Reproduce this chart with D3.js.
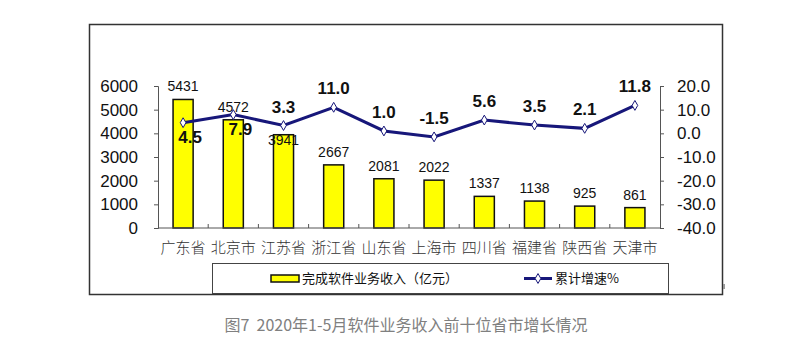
<!DOCTYPE html>
<html>
<head>
<meta charset="utf-8">
<script src="https://cdn.jsdelivr.net/npm/d3@7"></script>
<style>
  body { margin: 0; background: #fff; }
  svg { display: block; font-family: "Liberation Sans", Arial, "Noto Sans CJK SC", sans-serif; }
</style>
</head>
<body>
<svg id="chart" width="803" height="354"></svg>
<script>
// chart data
var provinces = ["广东省", "北京市", "江苏省", "浙江省", "山东省", "上海市", "四川省", "福建省", "陕西省", "天津市"];
var revenue = [5431, 4572, 3941, 2667, 2081, 2022, 1337, 1138, 925, 861];
var growth = [4.5, 7.9, 3.3, 11.0, 1.0, -1.5, 5.6, 3.5, 2.1, 11.8];
var leftTicks = [0, 1000, 2000, 3000, 4000, 5000, 6000];
var rightTicks = [-40, -30, -20, -10, 0, 10, 20];
var legendNames = ["完成软件业务收入（亿元）", "累计增速%"];
var caption = "图7  2020年1-5月软件业务收入前十位省市增长情况";

var svg = d3.select("#chart");
var cjk = "'Noto Sans CJK SC', sans-serif";
var navy = "#17177a";

// plot area (note: "top" is reserved on window, so use other names)
var pLeft = 158, pRight = 660, pTop = 86, pBottom = 228;

var x = d3.scaleBand().domain(provinces).range([pLeft, pRight])
  .paddingInner(0.6).paddingOuter(0.3);
var xEdge = d3.scaleBand().domain(provinces).range([pLeft, pRight]);
var yL = d3.scaleLinear().domain([0, 6000]).range([pBottom, pTop]);
var yR = d3.scaleLinear().domain([-40, 20]).range([pBottom, pTop]);

// outer frame
svg.append("rect")
  .attr("x", 89.5).attr("y", 24.5).attr("width", 633).attr("height", 270)
  .attr("fill", "none").attr("stroke", "#333").attr("stroke-width", 1.5);
svg.append("rect")
  .attr("x", 723).attr("y", 284).attr("width", 2).attr("height", 5)
  .attr("fill", "#999");

// bars
svg.selectAll("rect.bar")
  .data(revenue)
  .enter().append("rect")
  .attr("class", "bar")
  .attr("x", function(d, i) { return x(provinces[i]); })
  .attr("y", function(d) { return yL(d); })
  .attr("width", x.bandwidth())
  .attr("height", function(d) { return pBottom - yL(d); })
  .attr("fill", "#ffff00")
  .attr("stroke", "#111")
  .attr("stroke-width", 1.5);

// left axis
var axL = svg.append("g")
  .attr("transform", "translate(" + pLeft + ",0)")
  .call(d3.axisLeft(yL).tickValues(leftTicks).tickSize(4).tickPadding(16)
    .tickFormat(function(d) { return String(d); }));

// right axis
var axR = svg.append("g")
  .attr("transform", "translate(" + pRight + ",0)")
  .call(d3.axisRight(yR).tickValues(rightTicks).tickSize(4).tickPadding(13)
    .tickFormat(function(d) { return d.toFixed(1); }));

[axL, axR].forEach(function(ax) {
  ax.select(".domain").attr("stroke", "#555");
  ax.selectAll(".tick line").attr("stroke", "#555");
  ax.selectAll(".tick text")
    .attr("fill", "#111")
    .style("font-size", "17px")
    .style("font-family", "'Liberation Sans', Arial, sans-serif");
});

// bottom axis
svg.append("line")
  .attr("x1", pLeft).attr("x2", pRight).attr("y1", pBottom).attr("y2", pBottom)
  .attr("stroke", "#555");
svg.selectAll("line.xtick")
  .data(provinces.slice(1))
  .enter().append("line")
  .attr("class", "xtick")
  .attr("x1", function(d) { return xEdge(d); })
  .attr("x2", function(d) { return xEdge(d); })
  .attr("y1", pBottom).attr("y2", pBottom - 4)
  .attr("stroke", "#555");
svg.selectAll("text.cat")
  .data(provinces)
  .enter().append("text")
  .attr("class", "cat")
  .attr("x", function(d) { return x(d) + x.bandwidth() / 2; })
  .attr("y", 253)
  .attr("text-anchor", "middle")
  .style("font-family", cjk)
  .style("font-size", "15px")
  .style("font-weight", "300")
  .attr("fill", "#333")
  .text(function(d) { return d; });

// bar value labels (江苏 label sits lower in the original)
var barLabelShift = { "江苏省": 18 };
svg.selectAll("text.barval")
  .data(revenue)
  .enter().append("text")
  .attr("class", "barval")
  .attr("x", function(d, i) { return x(provinces[i]) + x.bandwidth() / 2; })
  .attr("y", function(d, i) { return yL(d) - 8 + (barLabelShift[provinces[i]] || 0); })
  .attr("text-anchor", "middle")
  .style("font-size", "14px")
  .attr("fill", "#111")
  .text(function(d) { return d; });

// growth line
var cx = function(d, i) { return x(provinces[i]) + x.bandwidth() / 2; };
var line = d3.line()
  .x(cx)
  .y(function(d) { return yR(d); });

svg.append("path")
  .datum(growth)
  .attr("d", line)
  .attr("fill", "none")
  .attr("stroke", navy)
  .attr("stroke-width", 3);

var diamond = d3.symbol().type(d3.symbolDiamond).size(28);
svg.selectAll("path.marker")
  .data(growth)
  .enter().append("path")
  .attr("class", "marker")
  .attr("transform", function(d, i) { return "translate(" + cx(d, i) + "," + yR(d) + ")"; })
  .attr("d", diamond)
  .attr("fill", "#fff")
  .attr("stroke", navy)
  .attr("stroke-width", 1);

// growth labels: first two sit under the point
var below = { "广东省": true, "北京市": true };
svg.selectAll("text.lineval")
  .data(growth)
  .enter().append("text")
  .attr("class", "lineval")
  .attr("x", function(d, i) { return cx(d, i) + (below[provinces[i]] ? 7 : 0); })
  .attr("y", function(d, i) { return yR(d) + (below[provinces[i]] ? 20 : -13); })
  .attr("text-anchor", "middle")
  .style("font-size", "17px")
  .style("font-weight", "bold")
  .attr("fill", "#111")
  .text(function(d) { return d.toFixed(1); });

// legend
var lg = svg.append("g");
lg.append("rect")
  .attr("x", 212.5).attr("y", 263.5).attr("width", 456).attr("height", 30)
  .attr("fill", "#fff").attr("stroke", "#444").attr("stroke-width", 1);
lg.append("rect")
  .attr("x", 271).attr("y", 275).attr("width", 28).attr("height", 7)
  .attr("fill", "#ffff00").attr("stroke", "#111").attr("stroke-width", 1.5);
lg.append("text")
  .attr("x", 302).attr("y", 283)
  .style("font-family", cjk).style("font-size", "13px")
  .attr("fill", "#111")
  .text(legendNames[0]);
lg.append("line")
  .attr("x1", 524).attr("x2", 552).attr("y1", 278.5).attr("y2", 278.5)
  .attr("stroke", navy).attr("stroke-width", 3);
lg.append("path")
  .attr("transform", "translate(538,278.5)")
  .attr("d", diamond)
  .attr("fill", "#fff").attr("stroke", navy).attr("stroke-width", 1);
lg.append("text")
  .attr("x", 555).attr("y", 283)
  .style("font-family", cjk).style("font-size", "13px")
  .attr("fill", "#111")
  .text(legendNames[1]);

// caption
svg.append("text")
  .attr("x", 406).attr("y", 331)
  .attr("text-anchor", "middle")
  .style("font-family", cjk).style("font-size", "16px")
  .attr("fill", "#808080")
  .style("white-space", "pre")
  .text(caption);
</script>
</body>
</html>
